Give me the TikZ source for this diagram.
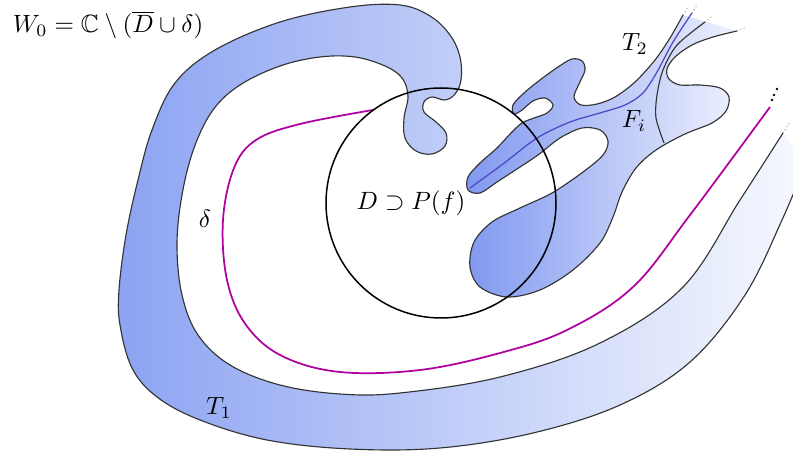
\documentclass[tikz,border=0pt]{standalone}
\usepackage{amssymb}
\begin{document}
\begin{tikzpicture}[x=0.4pt,y=-0.4pt,
  edge/.style={draw=black!80,line width=0.45pt},
  deltaline/.style={draw={rgb,255:red,175;green,0;blue,160},line width=0.7pt},
  coreline/.style={draw={rgb,255:red,80;green,70;blue,200},line width=0.5pt},
  tail/.style={draw=black!35,densely dotted,line width=0.4pt},
  disc/.style={draw=black,line width=0.6pt},
  lbl/.style={inner sep=0pt}]
\definecolor{bandL}{RGB}{140,163,242}
\definecolor{bandR}{RGB}{247,249,254}
\definecolor{tentL}{RGB}{128,152,240}
\definecolor{tentR}{RGB}{238,241,253}
\useasboundingbox (0,0) rectangle (793,452);
\def\TOnePath{plot[smooth,tension=0.6] coordinates {(805,165) (782,220) (745,295) (690,362) (620,405) (533,433) (440,448) (350,449) (267,440) (200,420) (157,397) (132,368) (120,325) (119,290) (126,235) (138,180) (152,130) (175,83) (215,50) (280,22) (350,7) (400,5) (430,16) (450,35) (460,57) (461,80) (455,94) (445,100) (432,97) (424,102) (424,112) (436,122) (446,133) (445,146) (432,154) (416,151) (405,138) (404,118) (408,96) (402,78) (385,66) (355,57) (320,57) (280,66) (240,85) (213,110) (194,148) (182,195) (177,245) (182,295) (198,335) (230,365) (280,385) (340,394) (400,393) (500,377) (600,343) (683,287) (740,200) (783,133)}}
\def\TTwoPath{plot[smooth,tension=0.55] coordinates {(683,15) (670,38) (655,60) (635,82) (615,97) (597,104) (581,105) (574,97) (579,84) (585,70) (582,61) (572,59) (558,67) (540,80) (524,93) (513,105) (514,114) (522,110) (533,101) (545,98) (553,105) (547,113) (534,118) (522,123) (511,133) (497,148) (480,163) (468,177) (468,190) (480,193) (497,182) (517,169) (538,155) (560,138) (582,128) (600,130) (608,141) (603,155) (583,172) (552,193) (520,208) (492,222) (474,242) (470,267) (480,287) (507,297) (540,290) (573,270) (600,243) (613,217) (622,192) (636,168) (656,150) (685,134) (712,123) (726,111) (729,97) (720,88) (700,85) (680,85) (669,79) (667,69) (675,57) (692,45) (713,37) (737,31)}}
\begin{scope}
\clip (0,0) rectangle (793,452);
% tract T1
\shade[left color=bandL,right color=bandR] \TOnePath -- cycle;
\draw[edge] \TOnePath;
\draw[tail] (783,133) -- (790,122);
% tract T2 with tentacles
\shade[left color=tentL,right color=tentR] \TTwoPath -- cycle;
\draw[edge] \TTwoPath;
\draw[edge] plot[smooth] coordinates {(664,143) (656,118) (657,95) (663,70) (677,45) (705,22)};
\draw[coreline] plot[smooth] coordinates {(470,188) (503,164) (537,138) (570,122) (600,113) (625,105) (643,93) (657,72) (673,42) (692,13)};
\draw[tail] (683,15) -- (688,7);
\draw[tail] (692,13) -- (697,5);
\draw[tail] (705,22) -- (712,16);
\draw[tail] (737,31) -- (745,28);
% curve delta
\draw[deltaline] plot[smooth,tension=0.6] coordinates {(373,110) (300,124) (256,140) (234,168) (223,220) (227,280) (246,325) (282,356) (340,372) (420,370) (500,353) (567,330) (633,287) (690,215) (770,107)};
\fill (772,100) circle (1.3) (774,95) circle (1.3) (777,89) circle (1.3);
% disc D
\draw[disc] (441,203) circle (115);
\end{scope}
% labels
\node[lbl] (w0) at (108,25) {$W_0=\mathbb{C}\setminus(\overline{D}\cup\delta)$};
\node[lbl] (dlab) at (411,203) {$D\supset P(f)$};
\node[lbl] (dellab) at (205,219) {$\delta$};
\node[lbl] (t1lab) at (219,408) {$T_1$};
\node[lbl] (t2lab) at (635,44) {$T_2$};
\node[lbl] (filab) at (634,121) {$F_i$};
\end{tikzpicture}
\end{document}
